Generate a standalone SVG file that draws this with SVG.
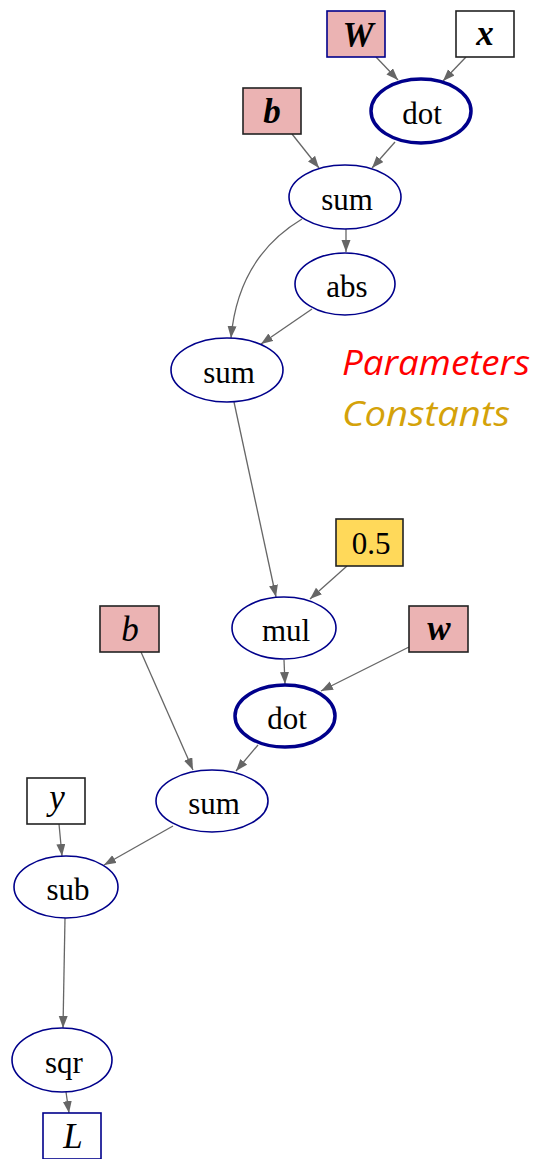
<svg xmlns="http://www.w3.org/2000/svg" width="538" height="1159" viewBox="0 0 538 1159">
<style>
.op{fill:#fff;stroke:#00008b;stroke-width:1.6}
.op2{fill:#fff;stroke:#00008b;stroke-width:3.5}
.lbl{font-family:"Liberation Serif",serif;font-size:31px;fill:#000;text-anchor:middle}
.m{font-family:"Liberation Serif",serif;font-size:35px;font-style:italic;fill:#000;text-anchor:middle}
.mb{font-weight:bold}
.par{fill:#ebb3b3;stroke:#222;stroke-width:1.6}
.parb{fill:#ebb3b3;stroke:#00008b;stroke-width:1.6}
.inp{fill:#fff;stroke:#222;stroke-width:1.6}
.cst{fill:#ffd95a;stroke:#222;stroke-width:1.6}
.out{fill:#fff;stroke:#00008b;stroke-width:1.6}
.e{fill:none;stroke:#666;stroke-width:1.3;marker-end:url(#ah)}
.leg{font-family:"Open Sans",sans-serif;font-style:italic;font-size:35px}
</style>
<defs>
<marker id="ah" markerUnits="userSpaceOnUse" markerWidth="13" markerHeight="10" refX="12" refY="4.5" orient="auto">
<path d="M0,0 L12,4.5 L0,9 z" fill="#666"/>
</marker>
</defs>
<g id="connectors">
<path class="e" d="M376,57 L398,80"/>
<path class="e" d="M466,57 L443,81"/>
<path class="e" d="M292,134 L319,168"/>
<path class="e" d="M395,142 L372,168"/>
<path class="e" d="M346,229 L346,252"/>
<path class="e" d="M302,219 C262,243 236,281 231,338"/>
<path class="e" d="M312,309 L261,344"/>
<path class="e" d="M234,402 L276,597"/>
<path class="e" d="M347,566 L310,599"/>
<path class="e" d="M284,660 L285,684"/>
<path class="e" d="M409,647 L321,691"/>
<path class="e" d="M141,652 L193,770"/>
<path class="e" d="M258,745 L236,771"/>
<path class="e" d="M59,824 L62,856"/>
<path class="e" d="M173,826 L104,865"/>
<path class="e" d="M65,918 L63,1028"/>
<path class="e" d="M66,1092 L69,1113"/>
</g>
<g id="W"><rect class="parb" x="327" y="11" width="58" height="46"/><text class="m mb" x="358" y="47">W</text></g>
<g id="x"><rect class="inp" x="456" y="11" width="58" height="46"/><text class="m mb" x="485" y="45">x</text></g>
<g id="dot1"><ellipse class="op2" cx="421" cy="111" rx="50" ry="32"/><text class="lbl" x="422" y="124">dot</text></g>
<g id="b1"><rect class="par" x="243" y="88" width="58" height="46"/><text class="m mb" x="272" y="123">b</text></g>
<g id="sum1"><ellipse class="op" cx="345" cy="197" rx="56" ry="32"/><text class="lbl" x="347" y="210">sum</text></g>
<g id="abs"><ellipse class="op" cx="345" cy="284" rx="50" ry="31"/><text class="lbl" x="347" y="297">abs</text></g>
<g id="sum2"><ellipse class="op" cx="227" cy="370" rx="56" ry="32"/><text class="lbl" x="229" y="383">sum</text></g>
<g id="legend">
<text class="leg" x="342" y="375" fill="#ff0000" textLength="188" lengthAdjust="spacingAndGlyphs">Parameters</text>
<text class="leg" x="342" y="426" fill="#d4a20a" textLength="168" lengthAdjust="spacingAndGlyphs">Constants</text>
</g>
<g id="c05"><rect class="cst" x="336" y="519" width="67" height="47"/><text class="lbl" x="371" y="554">0.5</text></g>
<g id="mul"><ellipse class="op" cx="284" cy="628" rx="52" ry="31"/><text class="lbl" x="286" y="641">mul</text></g>
<g id="b2"><rect class="par" x="100" y="606" width="59" height="46"/><text class="m" x="130" y="641">b</text></g>
<g id="w"><rect class="par" x="409" y="606" width="59" height="46"/><text class="m mb" x="439" y="640">w</text></g>
<g id="dot2"><ellipse class="op2" cx="285" cy="716" rx="50" ry="31"/><text class="lbl" x="287" y="729">dot</text></g>
<g id="sum3"><ellipse class="op" cx="212" cy="801" rx="56" ry="31"/><text class="lbl" x="214" y="814">sum</text></g>
<g id="y"><rect class="inp" x="27" y="778" width="58" height="46"/><text class="m" x="57" y="809">y</text></g>
<g id="sub"><ellipse class="op" cx="66" cy="887" rx="52" ry="31"/><text class="lbl" x="68" y="900">sub</text></g>
<g id="sqr"><ellipse class="op" cx="62" cy="1060" rx="50" ry="32"/><text class="lbl" x="64" y="1073">sqr</text></g>
<g id="L"><rect class="out" x="43" y="1113" width="58" height="46"/><text class="m" x="73" y="1148">L</text></g>
</svg>
